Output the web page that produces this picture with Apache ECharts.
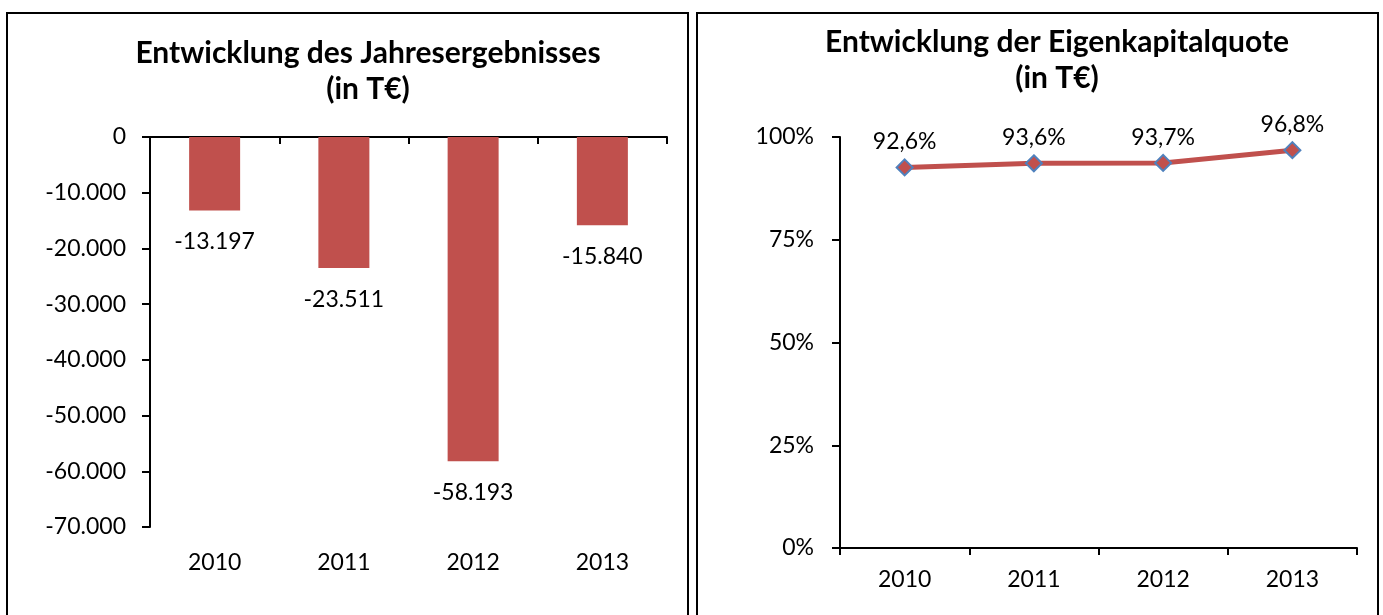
<!DOCTYPE html>
<html>
<head>
<meta charset="utf-8">
<script src="https://cdn.jsdelivr.net/npm/echarts@6/dist/echarts.min.js"></script>
<style>
html,body{margin:0;padding:0;background:#fff;}
#chart{width:1383px;height:615px;}
</style>
</head>
<body>
<div id="chart"></div>
<script>
// ---- data ----
var years = ['2010', '2011', '2012', '2013'];
var jahresergebnis = [-13197, -23511, -58193, -15840];
var eigenkapitalquote = [92.6, 93.6, 93.7, 96.8];
var leftTicks = { min: -70000, max: 0, interval: 10000 };
var rightTicks = { min: 0, max: 100, interval: 25 };
var leftTitle = 'Entwicklung des Jahresergebnisses\n(in T€)';
var rightTitle = 'Entwicklung der Eigenkapitalquote\n(in T€)';

var FONT = 'Lato, "Open Sans", sans-serif';
var RED = '#c0504d';
var BLUE = '#4f81bd';

function deNum(v) {
  var neg = v < 0; var s = String(Math.abs(Math.round(v)));
  s = s.replace(/\B(?=(\d{3})+(?!\d))/g, '.');
  return (neg ? '-' : '') + s;
}
function dePct(v) {
  return v.toFixed(1).replace('.', ',') + '%';
}

var axisLineStyle = { color: '#000', width: 2 };
var labelStyle = { color: '#000', fontFamily: FONT, fontSize: 23 };
var titleStyle = { fontFamily: FONT, fontWeight: 'bold', fontSize: 30, color: '#000', lineHeight: 36 };

var chart = echarts.init(document.getElementById('chart'), null, { renderer: 'canvas' });
chart.setOption({
  animation: false,
  backgroundColor: '#fff',
  graphic: [
    { type: 'rect', shape: { x: 7, y: 13, width: 681, height: 620 }, style: { fill: 'none', stroke: '#000', lineWidth: 2 }, z: 100 },
    { type: 'rect', shape: { x: 697, y: 13, width: 681, height: 620 }, style: { fill: 'none', stroke: '#000', lineWidth: 2 }, z: 100 }
  ],
  title: [
    { text: leftTitle, left: 368, top: 35, padding: 0, textAlign: 'center', textStyle: titleStyle },
    { text: rightTitle, left: 1057, top: 24, padding: 0, textAlign: 'center', textStyle: titleStyle }
  ],
  grid: [
    { left: 150, top: 137, width: 517, height: 390, containLabel: false },
    { left: 840, top: 137, width: 517, height: 411, containLabel: false }
  ],
  xAxis: [
    { // left: line at zero (top)
      type: 'category', data: years, gridIndex: 0, position: 'top',
      axisLine: { show: true, onZero: false, lineStyle: axisLineStyle },
      axisTick: { show: true, inside: true, length: 7, lineStyle: axisLineStyle, alignWithLabel: false },
      axisLabel: { show: false }, splitLine: { show: false }
    },
    { // left: labels at bottom
      type: 'category', data: years, gridIndex: 0, position: 'bottom',
      axisLine: { show: false, onZero: false }, axisTick: { show: false },
      axisLabel: Object.assign({ margin: 24 }, labelStyle), splitLine: { show: false }
    },
    { // right
      type: 'category', data: years, gridIndex: 1, position: 'bottom',
      axisLine: { show: true, onZero: false, lineStyle: axisLineStyle },
      axisTick: { show: true, length: 7, lineStyle: axisLineStyle },
      axisLabel: Object.assign({ margin: 20 }, labelStyle), splitLine: { show: false }
    }
  ],
  yAxis: [
    { type: 'value', gridIndex: 0, min: leftTicks.min, max: leftTicks.max, interval: leftTicks.interval,
      axisLine: { show: true, lineStyle: axisLineStyle },
      axisTick: { show: true, length: 8, lineStyle: axisLineStyle },
      axisLabel: Object.assign({ margin: 24, formatter: deNum }, labelStyle),
      splitLine: { show: false } },
    { type: 'value', gridIndex: 1, min: rightTicks.min, max: rightTicks.max, interval: rightTicks.interval,
      axisLine: { show: true, lineStyle: axisLineStyle },
      axisTick: { show: true, length: 8, lineStyle: axisLineStyle },
      axisLabel: Object.assign({ margin: 26, formatter: function (v) { return v + '%'; } }, labelStyle),
      splitLine: { show: false } }
  ],
  series: [
    { type: 'bar', xAxisIndex: 0, yAxisIndex: 0, data: jahresergebnis,
      barWidth: 51, itemStyle: { color: RED },
      label: { show: true, position: 'bottom', distance: 20, color: '#000', fontFamily: FONT, fontSize: 23,
        formatter: function (p) { return deNum(p.value); } } },
    { type: 'line', xAxisIndex: 2, yAxisIndex: 1, data: eigenkapitalquote,
      lineStyle: { color: RED, width: 5 },
      symbol: 'diamond', symbolSize: 16,
      itemStyle: { color: RED, borderColor: BLUE, borderWidth: 2 },
      label: { show: true, position: 'top', distance: 5, color: '#000', fontFamily: FONT, fontSize: 23,
        formatter: function (p) { return dePct(p.value); } } }
  ]
});
</script>
</body>
</html>
